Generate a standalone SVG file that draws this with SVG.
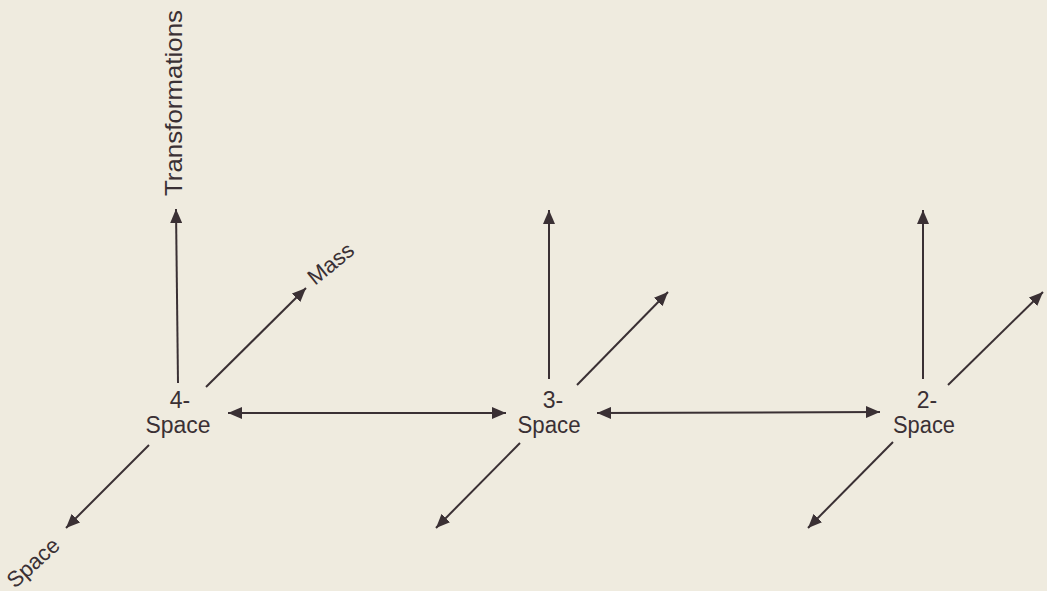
<svg xmlns="http://www.w3.org/2000/svg" width="1047" height="591" viewBox="0 0 1047 591">
<defs>
<style>
.bg{fill:#efebdf}
.ln{stroke:#3a3034;stroke-width:2;fill:none}
.t{font-family:"Liberation Sans",Arial,sans-serif;font-size:23px;fill:#3a3034}
.s{font-size:22px}
.c{text-anchor:middle}
</style>
<marker id="ah" viewBox="0 0 14 12" refX="14" refY="6" markerWidth="14" markerHeight="12" markerUnits="userSpaceOnUse" orient="auto-start-reverse">
<path d="M0,0 L14,6 L0,12 Z" fill="#3a3034"/>
</marker>
</defs>
<rect class="bg" x="0" y="0" width="1047" height="591"/>
<g id="connectors">
<line class="ln" x1="178" y1="383" x2="176" y2="209" marker-end="url(#ah)"/>
<line class="ln" x1="206" y1="387" x2="306" y2="288" marker-end="url(#ah)"/>
<line class="ln" x1="149" y1="445" x2="66" y2="528" marker-end="url(#ah)"/>
<line class="ln" x1="228" y1="413" x2="506" y2="413" marker-start="url(#ah)" marker-end="url(#ah)"/>
<line class="ln" x1="549" y1="379" x2="549" y2="210" marker-end="url(#ah)"/>
<line class="ln" x1="577" y1="385" x2="668" y2="292" marker-end="url(#ah)"/>
<line class="ln" x1="520" y1="443" x2="436" y2="528" marker-end="url(#ah)"/>
<line class="ln" x1="597" y1="413" x2="880" y2="412" marker-start="url(#ah)" marker-end="url(#ah)"/>
<line class="ln" x1="923" y1="379" x2="923" y2="210" marker-end="url(#ah)"/>
<line class="ln" x1="948" y1="385" x2="1043" y2="292" marker-end="url(#ah)"/>
<line class="ln" x1="893" y1="442" x2="808" y2="528" marker-end="url(#ah)"/>
</g>
<g id="node-4space">
<text class="t c" x="180" y="408">4-</text>
<text class="t c" x="178" y="433" textLength="65" lengthAdjust="spacingAndGlyphs">Space</text>
</g>
<g id="node-3space">
<text class="t c" x="553" y="408">3-</text>
<text class="t c" x="549" y="433" textLength="63" lengthAdjust="spacingAndGlyphs">Space</text>
</g>
<g id="node-2space">
<text class="t c" x="927" y="408">2-</text>
<text class="t c" x="924" y="433" textLength="62" lengthAdjust="spacingAndGlyphs">Space</text>
</g>
<g id="label-transformations">
<text class="t" style="font-size:24px" transform="translate(182,196) rotate(-90)" textLength="186" lengthAdjust="spacingAndGlyphs">Transformations</text>
</g>
<g id="label-mass">
<text class="t s" transform="translate(315,286) rotate(-39)">Mass</text>
</g>
<g id="label-space">
<text class="t s" transform="translate(15,589) rotate(-42)">Space</text>
</g>
</svg>
